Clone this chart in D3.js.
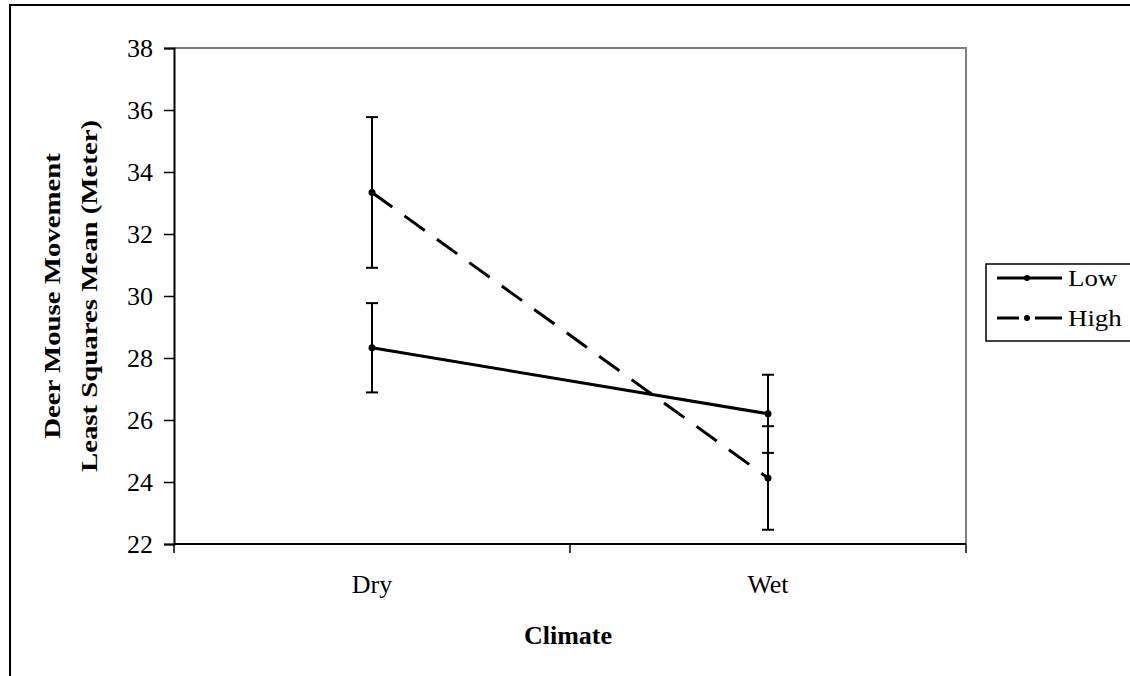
<!DOCTYPE html>
<html>
<head>
<meta charset="utf-8">
<script src="https://cdn.jsdelivr.net/npm/d3@7"></script>
<style>
  html, body { margin: 0; padding: 0; background: #fff; }
  svg { display: block; }
  text { font-family: "Liberation Serif", "Times New Roman", serif; fill: #000; }
</style>
</head>
<body>
<script>
// Climate categories on the x axis
const climates = ["Dry", "Wet"];
// Density groups (legend entries)
const groups = ["Low", "High"];
// Least squares means (m) per group, in climate order
const lowMeans = [28.33, 26.2];
const highMeans = [33.34, 24.13];
// Half-widths of the error bars (m)
const lowErr = [1.44, 1.26];
const highErr = [2.43, 1.67];
// Y-axis ticks
const yTicks = [22, 24, 26, 28, 30, 32, 34, 36, 38];

const W = 1130, H = 676;
const plot = { left: 174, top: 48, right: 966, bottom: 544 };

const svg = d3.select("body").append("svg").attr("width", W).attr("height", H);

// outer chart frame
svg.append("rect").attr("x", 10).attr("y", 5).attr("width", W + 20).attr("height", H + 20)
  .attr("fill", "none").attr("stroke", "#000").attr("stroke-width", 2);

const x = d3.scaleBand().domain(climates).range([plot.left, plot.right]);
const y = d3.scaleLinear().domain([22, 38]).range([plot.bottom, plot.top]);

// plot area border (top and right in grey)
svg.append("path")
  .attr("d", `M${plot.left},${plot.top}H${plot.right}V${plot.bottom}`)
  .attr("fill", "none").attr("stroke", "#808080").attr("stroke-width", 2);

// y axis
const yAxis = svg.append("g").attr("transform", `translate(${plot.left},0)`)
  .call(d3.axisLeft(y).tickValues(yTicks).tickSize(10).tickPadding(11).tickFormat(d3.format("d")));
yAxis.select(".domain").attr("stroke", "#000").attr("stroke-width", 2);
yAxis.selectAll(".tick line").attr("stroke", "#000").attr("stroke-width", 1.5);
yAxis.selectAll(".tick text")
  .style("font-size", "26px").style("font-family", "Liberation Serif").attr("dy", "0.34em");

// x axis: ticks at category boundaries, labels centred in each band
const boundaries = [plot.left, plot.left + x.bandwidth(), plot.right];
svg.append("line").attr("x1", plot.left).attr("x2", plot.right)
  .attr("y1", plot.bottom).attr("y2", plot.bottom).attr("stroke", "#000").attr("stroke-width", 2);
svg.selectAll(".xtick").data(boundaries).enter().append("line")
  .attr("x1", d => d).attr("x2", d => d)
  .attr("y1", plot.bottom).attr("y2", plot.bottom + 9)
  .attr("stroke", "#000").attr("stroke-width", 1.5);
svg.selectAll(".xlabel").data(climates).enter().append("text")
  .attr("x", d => x(d) + x.bandwidth() / 2).attr("y", 593)
  .attr("text-anchor", "middle").style("font-size", "26px").text(d => d);

// axis titles
svg.append("text").attr("x", 568).attr("y", 644).attr("text-anchor", "middle")
  .style("font-size", "26px").style("font-weight", "bold").text("Climate");
const yTitle = svg.append("text").attr("transform", "translate(0,296) rotate(-90) scale(1.2,1)")
  .attr("text-anchor", "middle").style("font-size", "24px").style("font-weight", "bold");
yTitle.append("tspan").attr("x", 0).attr("y", 60).text("Deer Mouse Movement");
yTitle.append("tspan").attr("x", 0).attr("y", 97).text("Least Squares Mean (Meter)");

const series = [
  { name: groups[0], means: lowMeans, err: lowErr, dash: null, legendDash: null },
  { name: groups[1], means: highMeans, err: highErr, dash: "25,15", legendDash: "22,16,28" }
];

const cx = c => x(c) + x.bandwidth() / 2;
const line = d3.line().x(d => cx(d.c)).y(d => y(d.v));

series.forEach(s => {
  const pts = climates.map((c, i) => ({ c, v: s.means[i], e: s.err[i] }));
  // error bars
  const eb = svg.append("g");
  pts.forEach(p => {
    const px = cx(p.c);
    eb.append("line").attr("x1", px).attr("x2", px)
      .attr("y1", y(p.v + p.e)).attr("y2", y(p.v - p.e))
      .attr("stroke", "#000").attr("stroke-width", 2);
    [p.v + p.e, p.v - p.e].forEach(v => {
      eb.append("line").attr("x1", px - 6).attr("x2", px + 6)
        .attr("y1", y(v)).attr("y2", y(v)).attr("stroke", "#000").attr("stroke-width", 2);
    });
  });
  // mean line
  svg.append("path").datum(pts).attr("d", line)
    .attr("fill", "none").attr("stroke", "#000").attr("stroke-width", 3)
    .attr("stroke-dasharray", s.dash);
  // markers
  svg.selectAll(null).data(pts).enter().append("circle")
    .attr("cx", d => cx(d.c)).attr("cy", d => y(d.v)).attr("r", 3.5).attr("fill", "#000");
});

// legend
const lg = svg.append("g");
lg.append("rect").attr("x", 986).attr("y", 264).attr("width", 160).attr("height", 77)
  .attr("fill", "#fff").attr("stroke", "#000").attr("stroke-width", 1.5);
series.forEach((s, i) => {
  const ly = 278 + i * 40;
  lg.append("line").attr("x1", 997).attr("x2", 1062).attr("y1", ly).attr("y2", ly)
    .attr("stroke", "#000").attr("stroke-width", 3)
    .attr("stroke-dasharray", s.legendDash);
  lg.append("circle").attr("cx", 1027).attr("cy", ly).attr("r", 3).attr("fill", "#000");
  lg.append("text").attr("transform", `translate(1068,${ly + 8}) scale(1.12,1)`)
    .style("font-size", "24px").text(s.name);
});
</script>
</body>
</html>
